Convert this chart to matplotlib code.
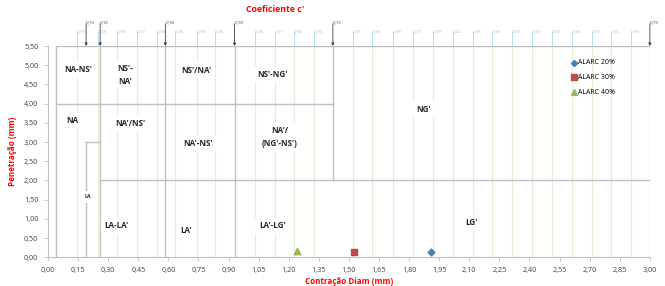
import numpy as np
import matplotlib
matplotlib.use("Agg")
import matplotlib.pyplot as plt
from matplotlib.ticker import FuncFormatter, MultipleLocator

plt.rcParams['font.family'] = ['Open Sans', 'DejaVu Sans']

# measured points (Contracao Diam, Penetracao)
series_names = ["ALARC 20%", "ALARC 30%", "ALARC 40%"]
contracao = [1.91, 1.525, 1.24]
penetracao = [0.13, 0.15, 0.17]
markers = ["D", "s", "^"]
colours = ["#4a7ebb", "#be4b48", "#98b954"]

# region boundaries on the chart
bound_x = [0.19, 0.26, 0.585, 0.93, 1.42, 3.0]
bound_labels = ["0,19", "0,16", "0,18", "0,18", "0,15", "0,19"]

# coefficient c' labels along the top
coef_x = [0.144, 0.249, 0.344, 0.443, 0.543, 0.633, 0.742, 0.832, 1.031, 1.131,
          1.226, 1.325, 1.520, 1.614, 1.719, 1.819, 1.918, 2.018, 2.118, 2.212,
          2.312, 2.412, 2.511, 2.611, 2.711, 2.805, 2.905]
coef_labels = ["0,19", "0,18", "0,18", "0,17", "0,18", "0,18", "0,18", "0,18", "0,18", "0,17",
               "0,18", "0,16", "0,15", "0,18", "0,18", "0,17", "0,19", "0,22", "0,16", "0,18",
               "0,18", "0,19", "0,18", "0,18", "0,17", "0,16", "0,15"]

# region names and their positions
region_names = ["NA-NS'", "NS'-\nNA'", "NS'/NA'", "NS'-NG'", "NA", "NA'/NS'", "NA'-NS'",
                "NA'/\n(NG'-NS')", "NG'", "LA", "LA-LA'", "LA'", "LA'-LG'", "LG'"]
region_x = [0.148, 0.384, 0.74, 1.12, 0.12, 0.41, 0.75, 1.156, 1.87, 0.198, 0.343, 0.69, 1.117, 2.11]
region_y = [4.88, 4.75, 4.87, 4.77, 3.55, 3.49, 2.95, 3.13, 3.86, 1.58, 0.82, 0.71, 0.82, 0.90]

grey = "#bfbfbf"


def comma(v, pos):
    return ("%.2f" % v).replace(".", ",")


fig = plt.figure(figsize=(6.65, 2.86), dpi=100)
ax = fig.add_axes([0.0722, 0.1003, 0.905, 0.7388])
ax.set_xlim(0, 3.0)
ax.set_ylim(0, 5.5)

# light green drop lines of the coefficient labels
for cx in coef_x:
    ax.plot([cx, cx], [0, 5.5], color="#e3eed6", lw=0.8, zorder=1)

# region box and subdivisions
ax.plot([0.04, 3.0, 3.0], [5.5, 5.5, 0], color=grey, lw=1.0, zorder=2)
ax.plot([0.04, 0.04], [0, 5.5], color=grey, lw=1.0, zorder=2)
ax.plot([bound_x[0], bound_x[0]], [0, 3.0], color=grey, lw=1.0, zorder=2)
for bx in bound_x[1:4]:
    ax.plot([bx, bx], [0, 5.5], color=grey, lw=1.0, zorder=2)
ax.plot([bound_x[4], bound_x[4]], [2.0, 5.5], color=grey, lw=1.0, zorder=2)
ax.plot([0.04, bound_x[4]], [4.0, 4.0], color=grey, lw=1.0, zorder=2)
ax.plot([bound_x[1], 3.0], [2.0, 2.0], color=grey, lw=1.0, zorder=2)
ax.plot([bound_x[0], bound_x[1]], [3.0, 3.0], color=grey, lw=1.0, zorder=2)

# region names
for name, rx, ry in zip(region_names, region_x, region_y):
    fs = 3.8 if name == "LA" else 5.8
    ax.text(rx, ry, name, ha="center", va="center", fontsize=fs, fontweight="bold",
            color="#262626", linespacing=1.5, zorder=3,
            bbox=dict(facecolor="white", edgecolor="none", pad=2.5))

# points
for name, cx, py, m, c in zip(series_names, contracao, penetracao, markers, colours):
    ax.scatter([cx], [py], marker=m, s=22 if m != "D" else 12, color=c, label=name, zorder=4)

# coefficient labels on top
for cx, lab in zip(coef_x, coef_labels):
    ax.plot([cx, cx], [5.5, 5.86], color="#a8dce3", lw=0.6, clip_on=False)
    ax.text(cx, 5.84, lab, fontsize=3.2, color="#7cc6d0", ha="left", va="bottom", clip_on=False)

for bx, lab in zip(bound_x, bound_labels):
    ax.annotate("", xy=(bx, 5.5), xytext=(bx, 6.08), annotation_clip=False,
                arrowprops=dict(arrowstyle="-|>", color="#404040", lw=0.6,
                                mutation_scale=4, shrinkA=0, shrinkB=0))
    ax.text(bx, 6.06, lab, fontsize=3.2, color="#404040", ha="left", va="bottom", clip_on=False)

ax.text(1.13, 6.45, "Coeficiente c'", color="red", fontsize=6.3, fontweight="bold",
        ha="center", va="center", clip_on=False)

# axes styling
ax.xaxis.set_major_locator(MultipleLocator(0.15))
ax.yaxis.set_major_locator(MultipleLocator(0.5))
ax.xaxis.set_major_formatter(FuncFormatter(comma))
ax.yaxis.set_major_formatter(FuncFormatter(comma))
ax.tick_params(labelsize=5.2, colors="#404040", length=3, width=0.6, direction="out", pad=4)
ax.tick_params(axis="both", color=grey)
for s in ["top", "right"]:
    ax.spines[s].set_visible(False)
for s in ["left", "bottom"]:
    ax.spines[s].set_color(grey)
    ax.spines[s].set_linewidth(0.8)

ax.set_xlabel("Contração Diam (mm)", color="red", fontsize=5.8, fontweight="bold", labelpad=2)
ax.set_ylabel("Penetração (mm)", color="red", fontsize=5.8, fontweight="bold", labelpad=5)

ax.legend(loc="upper left", bbox_to_anchor=(0.86, 0.96), frameon=False, fontsize=5.0,
          handletextpad=0.1, markerscale=0.9, labelspacing=1.1, borderpad=0.2, handlelength=1.0)

fig.savefig("out.png", dpi=100)
